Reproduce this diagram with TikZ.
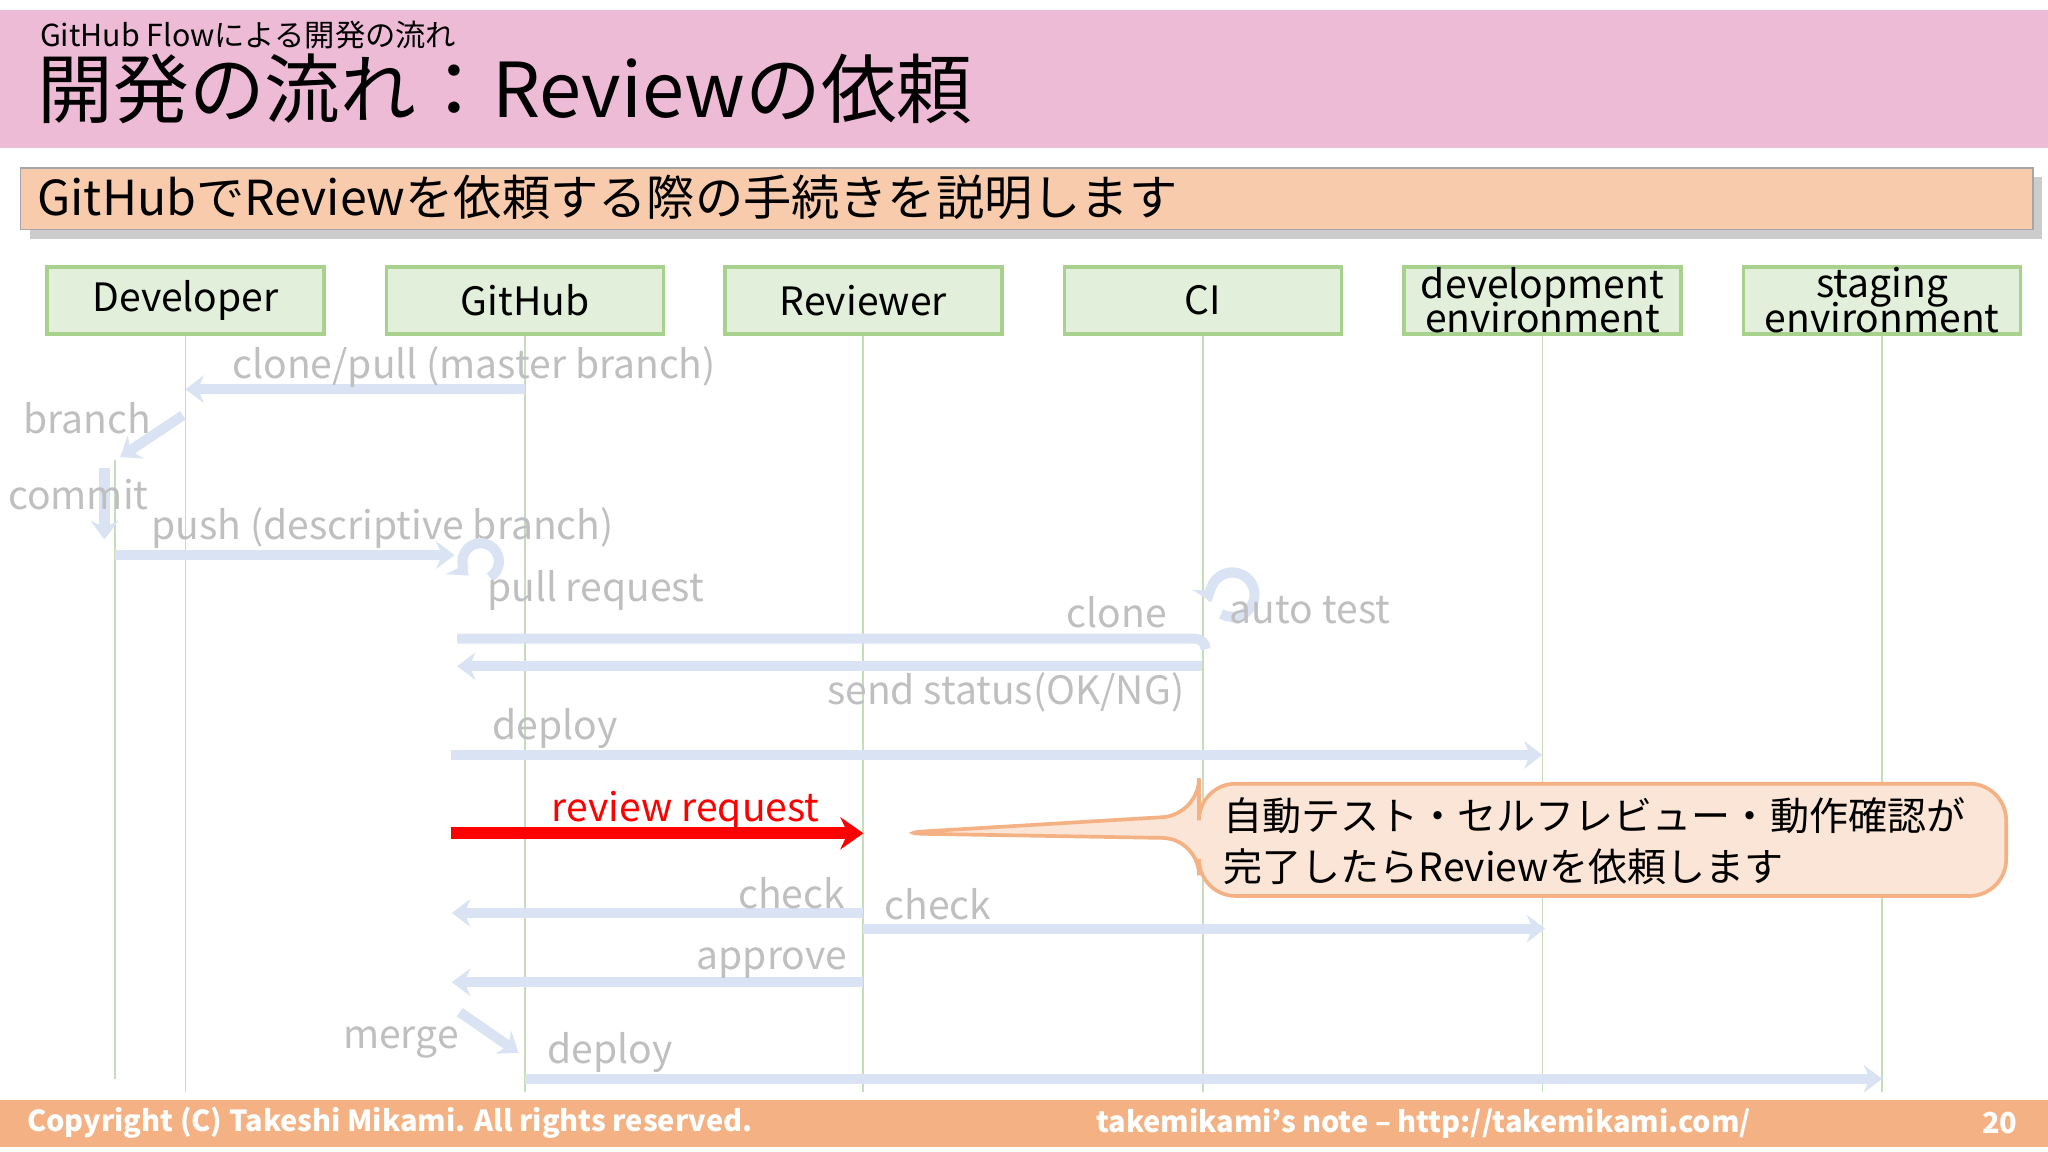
\documentclass[tikz,border=0pt]{standalone}
\usepackage{fontspec}
\setmainfont{Noto Sans CJK JP}
\usetikzlibrary{arrows.meta,shadows}
\definecolor{pinkbar}{HTML}{EEBBD6}
\definecolor{orbanner}{HTML}{F8CBAD}
\definecolor{boxfill}{HTML}{E2EFDA}
\definecolor{boxdraw}{HTML}{A9D18E}
\definecolor{faded}{HTML}{DAE3F3}
\definecolor{fadetext}{HTML}{BFBFBF}
\definecolor{footer}{HTML}{F4B183}
\definecolor{callfill}{HTML}{FBE5D6}
\definecolor{lifeline}{HTML}{C5DDB8}
\tikzset{
 actor/.style={draw=boxdraw,fill=boxfill,line width=0.8pt,minimum width=2.12cm,minimum height=0.51cm,align=center,font=\fontsize{8.5}{8.5}\selectfont,inner sep=0pt},
 life/.style={draw=lifeline,line width=0.4pt},
 fmsg/.style={draw=faded,line width=2.2pt,-{Stealth[length=4pt,width=6pt]}},
 flab/.style={text=fadetext,font=\fontsize{8.5}{9}\selectfont,inner sep=0pt},
}
\begin{document}
\begin{tikzpicture}[x=0.01cm,y=-0.01cm]
\useasboundingbox (0,0) rectangle (1568,882);
\fill[white] (0,0) rectangle (1568,882);
% header
\fill[pinkbar] (0,8) rectangle (1568,113);
\node[anchor=west,inner sep=0pt,font=\fontsize{6.6}{7}\selectfont] (sub) at (30,27) {GitHub Flowによる開発の流れ};
\node[anchor=west,inner sep=0pt,font=\fontsize{16.5}{17}\selectfont] (title) at (28,68) {開発の流れ：Reviewの依頼};
% banner
\node[draw=gray!70,fill=orbanner,anchor=north west,minimum width=15.40cm,minimum height=0.47cm,inner sep=0pt,drop shadow={shadow xshift=2pt,shadow yshift=-2pt,opacity=0.4}] (ban) at (15,128) {};
\node[anchor=west,inner sep=0pt,font=\fontsize{10.5}{11}\selectfont] (bantext) at (28,151) {GitHubでReviewを依頼する際の手続きを説明します};
% actors
\foreach \n/\x/\t in {dev/142/Developer,gh/402/GitHub,rev/661/Reviewer,ci/921/CI,de/1181/{development\\[-2pt]environment},se/1441/{staging\\[-2pt]environment}}{
 \node[actor] (\n) at (\x,230) {\t};
 \draw[life] (\n.south) -- (\x,836);
}
\draw[life] (88,352) -- (88,826);
% messages
\coordinate (a1) at (402,298); \coordinate (b1) at (142,298);
\draw[fmsg] (a1) -- (b1);
\node[flab] (l1) at (363,281) {clone/pull (master branch)};
\coordinate (a2) at (140,318); \coordinate (b2) at (92,350);
\draw[fmsg] (a2) -- (b2);
\node[flab] (l2) at (67,320) {branch};
\coordinate (a3) at (80,358); \coordinate (b3) at (80,413);
\draw[fmsg] (a3) -- (b3);
\node[flab] (l3) at (60,379) {commit};
\coordinate (a4) at (88,425); \coordinate (b4) at (348,425);
\draw[fmsg] (a4) -- (b4);
\node[flab] (l4) at (293,404) {push (descriptive branch)};
\draw[faded,line width=2.2pt,-{Stealth[length=4pt,width=6pt]}] (375,442) arc (60:-230:14);
\node[flab] (l5) at (456,452) {pull request};
\coordinate (a6) at (350,489); \coordinate (b6) at (915,489);
\draw[faded,line width=2.2pt] (a6) -- (b6) arc (-90:0:8);
\draw[faded,line width=2.2pt,-{Stealth[length=4pt,width=6pt]}] (935,470) arc (120:-200:17);
\node[flab] (l6) at (855,469) {clone};
\node[flab] (l7) at (1003,467) {auto test};
\coordinate (a8) at (920,510); \coordinate (b8) at (350,510);
\draw[fmsg] (a8) -- (b8);
\node[flab] (l8) at (770,530) {send status(OK/NG)};
\coordinate (a9) at (345,578); \coordinate (b9) at (1181,578);
\draw[fmsg] (a9) -- (b9);
\node[flab] (l9) at (425,558) {deploy};
\coordinate (a10) at (345,638); \coordinate (b10) at (661,638);
\draw[red,line width=2.6pt,-{Stealth[length=5pt,width=7pt]}] (a10) -- (b10);
\node[text=red,font=\fontsize{8.5}{9}\selectfont,inner sep=0pt] (l10) at (525,621) {review request};
% callout
\draw[footer,fill=callfill,line width=0.8pt,rounded corners=8pt] (918,600) -- (1536,600) -- (1536,686) -- (918,686) -- (918,642) -- (683,638) -- (918,624) -- cycle;
\node[anchor=north west,align=left,inner sep=0pt,font=\fontsize{8.5}{11}\selectfont] (ct) at (936,610) {自動テスト・セルフレビュー・動作確認が\\完了したらReviewを依頼します};
\coordinate (a11) at (661,699); \coordinate (b11) at (346,699);
\draw[fmsg] (a11) -- (b11);
\node[flab] (l11) at (606,684) {check};
\coordinate (a12) at (661,711); \coordinate (b12) at (1183,711);
\draw[fmsg] (a12) -- (b12);
\node[flab] (l12) at (718,692) {check};
\coordinate (a13) at (661,752); \coordinate (b13) at (346,752);
\draw[fmsg] (a13) -- (b13);
\node[flab] (l13) at (591,737) {approve};
\coordinate (a14) at (352,775); \coordinate (b14) at (397,806);
\draw[fmsg] (a14) -- (b14);
\node[flab] (l14) at (307,798) {merge};
\coordinate (a15) at (402,826); \coordinate (b15) at (1441,826);
\draw[fmsg] (a15) -- (b15);
\node[flab] (l15) at (467,806) {deploy};
% footer
\fill[footer] (0,842) rectangle (1568,878);
\node[anchor=west,text=white,inner sep=0pt,font=\fontsize{6.3}{7}\selectfont\bfseries] (f1) at (20,860) {Copyright (C) Takeshi Mikami. All rights reserved.};
\node[text=white,inner sep=0pt,font=\fontsize{6.3}{7}\selectfont\bfseries] (f2) at (1090,860) {takemikami’s note – http://takemikami.com/};
\node[text=white,inner sep=0pt,font=\fontsize{6.3}{7}\selectfont\bfseries] (f3) at (1531,860) {20};
\end{tikzpicture}
\end{document}
